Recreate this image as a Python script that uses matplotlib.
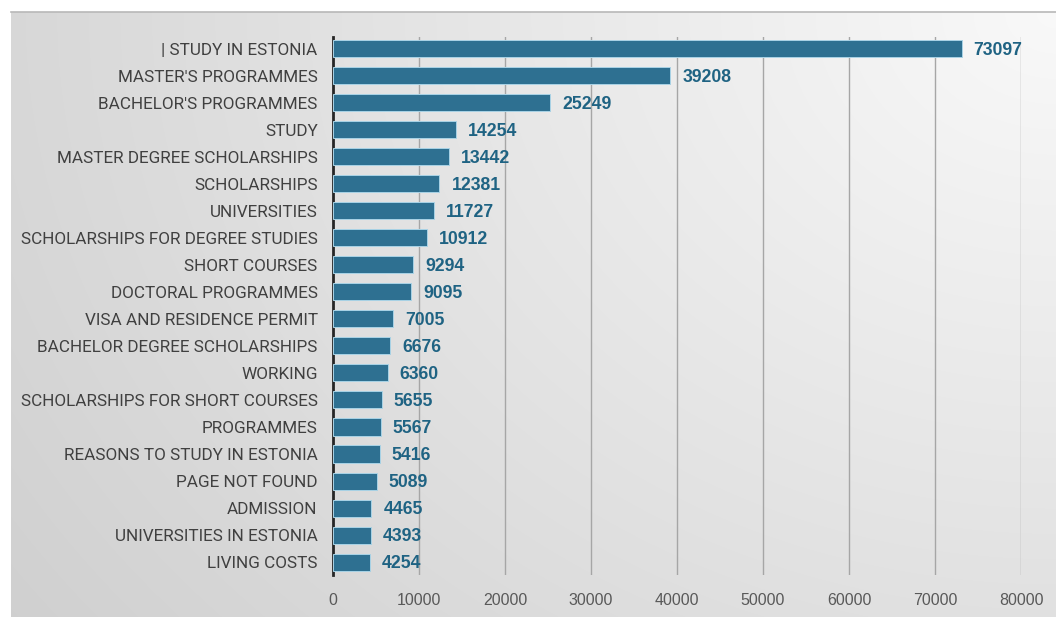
import matplotlib
matplotlib.use("Agg")
import matplotlib.pyplot as plt
import numpy as np

categories = ["| STUDY IN ESTONIA", "MASTER'S PROGRAMMES", "BACHELOR'S PROGRAMMES", "STUDY",
              "MASTER DEGREE SCHOLARSHIPS", "SCHOLARSHIPS", "UNIVERSITIES",
              "SCHOLARSHIPS FOR DEGREE STUDIES", "SHORT COURSES", "DOCTORAL PROGRAMMES",
              "VISA AND RESIDENCE PERMIT", "BACHELOR DEGREE SCHOLARSHIPS", "WORKING",
              "SCHOLARSHIPS FOR SHORT COURSES", "PROGRAMMES", "REASONS TO STUDY IN ESTONIA",
              "PAGE NOT FOUND", "ADMISSION", "UNIVERSITIES IN ESTONIA", "LIVING COSTS"]
values = [73097, 39208, 25249, 14254, 13442, 12381, 11727, 10912, 9294, 9095,
          7005, 6676, 6360, 5655, 5567, 5416, 5089, 4465, 4393, 4254]
xticks = [0, 10000, 20000, 30000, 40000, 50000, 60000, 70000, 80000]

W, H = 1056, 617
fig = plt.figure(figsize=(W / 100, H / 100), dpi=100)
fig.patch.set_facecolor("white")

# gradient background panel
bg = fig.add_axes([11 / W, 0, (W - 11) / W, (H - 12) / H], zorder=0)
yy, xx = np.mgrid[0:H - 12, 0:W - 11]
d = np.sqrt(((xx - (W - 11)) * 1.0) ** 2 + (yy * 1.25) ** 2)
d = d / d.max()
c = 0.975 - 0.16 * d
img = np.dstack([c, c, c])
bg.imshow(img, aspect="auto", extent=[0, 1, 0, 1], origin="upper")
bg.set_axis_off()
fig.add_artist(plt.Line2D([11 / W, 1], [1 - 12 / H, 1 - 12 / H], color="#b8b8b8", lw=1.2))

ax = fig.add_axes([333 / W, 1 - 575 / H, 688 / W, 538 / H], zorder=1)
ax.patch.set_alpha(0)
y = np.arange(len(categories))
ax.barh(y, values, height=0.63, color="#2e7091", edgecolor="#a9d3e6", linewidth=0.7, zorder=3)
ax.set_ylim(19.48, -0.44)
ax.set_xlim(0, 80000)
ax.set_yticks(y)
ax.set_yticklabels(categories, fontsize=12.3, color="#404040", family="Roboto")
ax.set_xticks(xticks)
ax.set_xticklabels([str(t) for t in xticks], fontsize=11.5, color="#595959", family="Liberation Sans")
ax.tick_params(axis="y", length=0, pad=11)
ax.tick_params(axis="x", length=0, pad=13)
for t in xticks[1:]:
    ax.axvline(t, color="#a6a6a6", lw=1.0, zorder=1)
for s in ["top", "right", "bottom"]:
    ax.spines[s].set_visible(False)
ax.spines["left"].set_color("#262626")
ax.spines["left"].set_linewidth(2)
for yi, v in zip(y, values):
    ax.text(v + 1400, yi + 0.05, str(v), va="center", ha="left", fontsize=12.7,
            fontweight="bold", color="#1f6383", family="Liberation Sans", zorder=4)

fig.savefig("out.png", dpi=100)
